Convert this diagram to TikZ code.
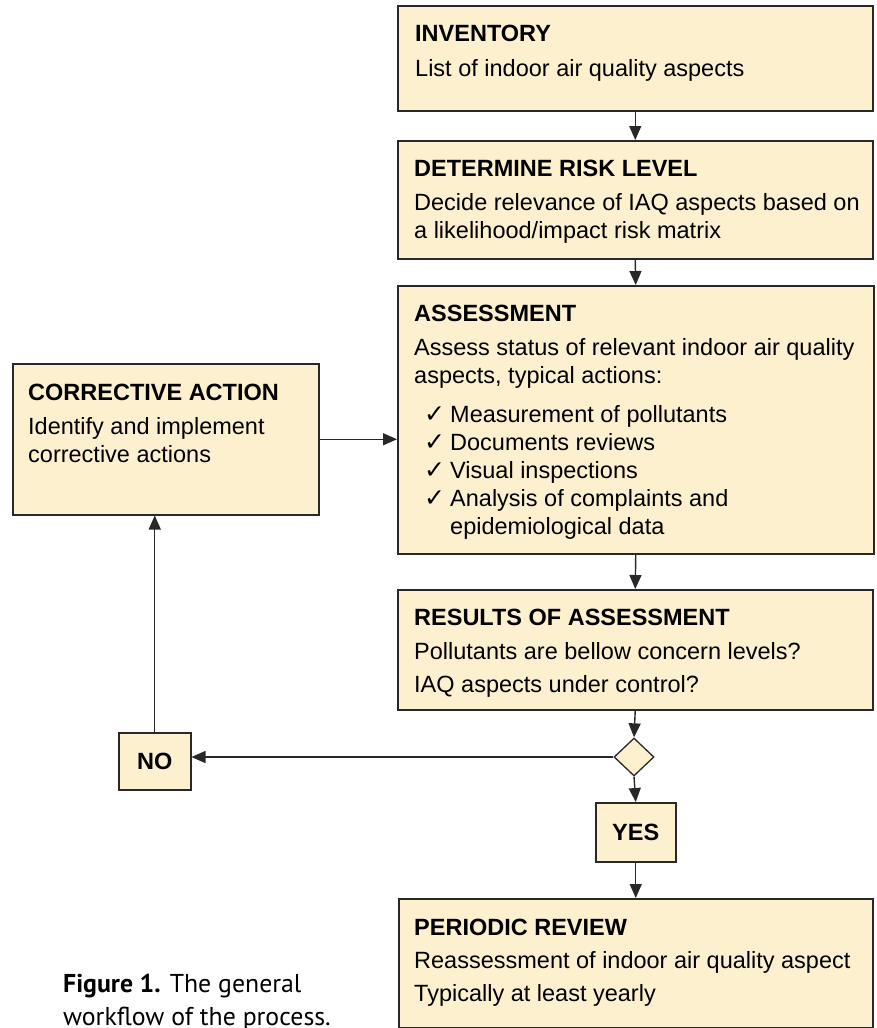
\documentclass[tikz,border=0pt]{standalone}
\usepackage{fontspec}
\setmainfont{Liberation Sans}
\newfontfamily\checkfont{DejaVu Sans}
\newfontfamily\capfont{PT Sans}
\usetikzlibrary{arrows.meta,shapes.geometric}

\definecolor{boxfill}{RGB}{252,240,206}
\definecolor{boxline}{RGB}{40,40,40}
\newcommand{\chk}{\makebox[26pt][l]{\checkfont\fontsize{25pt}{28pt}\selectfont ✓}}

\tikzset{
  stepbox/.style={draw=boxline, fill=boxfill, line width=1.5pt, inner sep=0pt, anchor=north west},
  boxtext/.style={anchor=north west, align=left, inner sep=0pt, font=\fontsize{23.5pt}{28pt}\selectfont},
  flow/.style={draw=boxline, line width=1.4pt, -{Triangle[length=14pt,width=12pt]}}
}

\begin{document}
\begin{tikzpicture}[x=1pt,y=-1pt]
  \useasboundingbox (0,0) rectangle (876,1028);

  % Boxes
  \node[stepbox, minimum width=475pt, minimum height=105pt] (inv) at (397,5) {};
  \node[stepbox, minimum width=475pt, minimum height=118pt] (det) at (397,140) {};
  \node[stepbox, minimum width=476pt, minimum height=268pt] (ass) at (397,285) {};
  \node[stepbox, minimum width=306pt, minimum height=151pt] (cor) at (12,363) {};
  \node[stepbox, minimum width=475pt, minimum height=120pt] (res) at (397,589) {};
  \node[stepbox, minimum width=474pt, minimum height=129pt] (per) at (398,898) {};

  % Decision
  \node[diamond, draw=boxline, fill=boxfill, line width=1.3pt, inner sep=0pt,
        minimum width=40pt, minimum height=38pt] (dia) at (634,757) {};
  \node[stepbox, minimum width=72pt, minimum height=57pt, font=\fontsize{23.5pt}{28pt}\selectfont\bfseries] (no) at (118,732) {NO};
  \node[stepbox, minimum width=80pt, minimum height=59pt, font=\fontsize{23.5pt}{28pt}\selectfont\bfseries] (yes) at (595,802) {YES};

  % Texts
  \node[boxtext] (invtxt) at ([shift={(18,20)}]inv.north west)
    {\textbf{INVENTORY}\\[7pt]List of indoor air quality aspects};
  \node[boxtext] (dettxt) at ([shift={(17,20)}]det.north west)
    {\textbf{DETERMINE RISK LEVEL}\\[6pt]Decide relevance of IAQ aspects based on\\a likelihood/impact risk matrix};
  \node[boxtext] (asstxt) at ([shift={(17,20)}]ass.north west)
    {\textbf{ASSESSMENT}\\[6pt]Assess status of relevant indoor air quality\\aspects, typical actions:\\[11pt]
     \hspace*{10pt}\chk Measurement of pollutants\\
     \hspace*{10pt}\chk Documents reviews\\
     \hspace*{10pt}\chk Visual inspections\\
     \hspace*{10pt}\chk Analysis of complaints and\\
     \hspace*{36pt}epidemiological data};
  \node[boxtext] (cortxt) at ([shift={(16,20.5)}]cor.north west)
    {\textbf{CORRECTIVE ACTION}\\[6pt]Identify and implement\\corrective actions};
  \node[boxtext] (restxt) at ([shift={(17,20)}]res.north west)
    {\textbf{RESULTS OF ASSESSMENT}\\[6pt]Pollutants are bellow concern levels?\\[5pt]IAQ aspects under control?};
  \node[boxtext] (pertxt) at ([shift={(16,20.5)}]per.north west)
    {\textbf{PERIODIC REVIEW}\\[5pt]Reassessment of indoor air quality aspect\\[5pt]Typically at least yearly};

  % Caption
  \node[anchor=base west, align=left, inner sep=0pt, font=\capfont\fontsize{25.8pt}{33pt}\selectfont] (caption) at (63,1025)
    {\textbf{Figure 1.} The general\\workflow of the process.};

  % Connectors
  \draw[flow] (inv.south) -- (det.north);
  \draw[flow] (det.south) -- (ass.north);
  \draw[flow] (ass.south) -- (res.north);
  \draw[flow] (res.south) -- (dia.north);
  \draw[flow] (dia.south) -- (yes.north);
  \draw[flow] (yes.south) -- (per.north);
  \draw[flow] (dia.west) -- (dia.west -| no.east);
  \draw[flow] (no.north) -- (no.north |- cor.south);
  \draw[flow] (cor.east) -- (cor.east -| ass.west);
\end{tikzpicture}
\end{document}
